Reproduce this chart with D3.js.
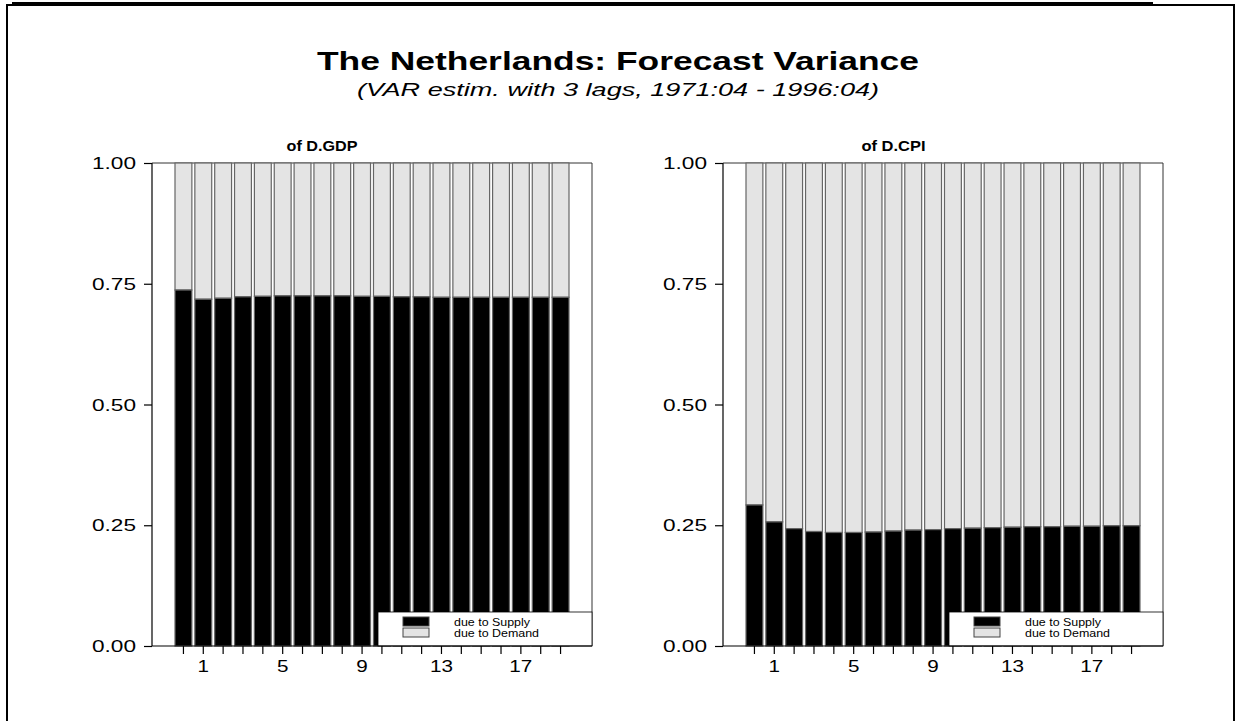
<!DOCTYPE html>
<html><head><meta charset="utf-8">
<script src="https://cdn.jsdelivr.net/npm/d3@7"></script>
<style>
html,body{margin:0;padding:0;background:#fff;}
svg{display:block;font-family:"Liberation Sans",Arial,sans-serif;}
</style></head>
<body><svg id="c" width="1238" height="721"></svg>
<script>
// ---- data ----
const horizons = d3.range(20);                 // forecast horizons (bar index)
const tickLabels = ["1","5","9","13","17"];    // labels shown under bars 1,5,9,13,17
const tickLabelIdx = [1,5,9,13,17];
const yTicks = [0, 0.25, 0.5, 0.75, 1.0];
const seriesNames = ["due to Supply","due to Demand"];
const panelTitles = ["of D.GDP","of D.CPI"];
const gdpSupply = [0.737,0.718,0.720,0.723,0.724,0.725,0.725,0.725,0.725,0.724,
                   0.724,0.723,0.723,0.722,0.722,0.722,0.722,0.722,0.722,0.722];
const cpiSupply = [0.292,0.257,0.243,0.237,0.235,0.235,0.236,0.238,0.240,0.241,
                   0.243,0.244,0.245,0.246,0.247,0.247,0.248,0.248,0.249,0.249];
const titleText = "The Netherlands: Forecast Variance";
const subtitleText = "(VAR estim. with 3 lags, 1971:04 - 1996:04)";

// ---- layout ----
const svg = d3.select("#c");
const FONT = "'Liberation Sans',Arial,sans-serif";

function txt(g, x, y, s, opt){
  const t = g.append("text").attr("x",x).attr("y",y).text(s)
    .attr("font-family",FONT).attr("font-size",opt.size).attr("fill","#000")
    .attr("text-anchor",opt.anchor||"start");
  if(opt.weight) t.attr("font-weight",opt.weight);
  if(opt.style) t.attr("font-style",opt.style);
  if(opt.len) t.attr("textLength",opt.len).attr("lengthAdjust","spacingAndGlyphs");
  return t;
}

// frame
svg.append("rect").attr("x",7).attr("y",5).attr("width",1227).attr("height",760)
  .attr("fill","none").attr("stroke","#000").attr("stroke-width",2);
svg.append("line").attr("x1",12).attr("x2",1153).attr("y1",4).attr("y2",4)
  .attr("stroke","#000").attr("stroke-width",4);

txt(svg, 618, 70, titleText, {size:26, weight:"bold", anchor:"middle", len:602});
txt(svg, 618, 96, subtitleText, {size:18, style:"italic", anchor:"middle", len:522});

const panels = [
  {left:152, right:592, data:gdpSupply, title:panelTitles[0], tx:322, tlen:71},
  {left:723, right:1163, data:cpiSupply, title:panelTitles[1], tx:893.5, tlen:64}
];
const plotTop = 163, plotBottom = 646;
const y = d3.scaleLinear().domain([0,1]).range([plotBottom, plotTop]);

panels.forEach(p => {
  const g = svg.append("g");
  const x = d3.scaleBand().domain(horizons).range([p.left+23, p.right-23]).paddingInner(0.15);

  // box top & right
  g.append("line").attr("x1",p.left).attr("x2",p.right).attr("y1",plotTop).attr("y2",plotTop)
    .attr("stroke","#333").attr("stroke-width",1);
  g.append("line").attr("x1",p.right).attr("x2",p.right).attr("y1",plotTop).attr("y2",plotBottom)
    .attr("stroke","#333").attr("stroke-width",1);

  // demand (top) segments
  g.selectAll("rect.dem").data(p.data).join("rect").attr("class","dem")
    .attr("x",(d,i)=>x(i)).attr("width",x.bandwidth())
    .attr("y",y(1)).attr("height",d=>y(d)-y(1))
    .attr("fill","#e4e4e4").attr("stroke","#666").attr("stroke-width",1.2);
  // supply (bottom) segments
  g.selectAll("rect.sup").data(p.data).join("rect").attr("class","sup")
    .attr("x",(d,i)=>x(i)).attr("width",x.bandwidth())
    .attr("y",d=>y(d)).attr("height",d=>y(0)-y(d))
    .attr("fill","#000").attr("stroke","#666").attr("stroke-width",1.2);

  // legend
  const lg = g.append("g");
  const lx = p.left + 226;
  lg.append("rect").attr("x",lx).attr("y",612).attr("width",p.right-lx).attr("height",plotBottom-612)
    .attr("fill","#fff").attr("stroke","#000").attr("stroke-width",0.8);
  lg.append("rect").attr("x",lx+25).attr("y",617).attr("width",26).attr("height",9)
    .attr("fill","#000").attr("stroke","#444").attr("stroke-width",1);
  lg.append("rect").attr("x",lx+25).attr("y",628).attr("width",26).attr("height",9)
    .attr("fill","#e4e4e4").attr("stroke","#444").attr("stroke-width",1);
  txt(lg, lx+76, 626, seriesNames[0], {size:11.5, len:76});
  txt(lg, lx+76, 637, seriesNames[1], {size:11.5, len:85});

  // y axis
  const ya = d3.axisLeft(y).tickValues(yTicks).tickSize(8).tickFormat(d3.format(".2f"));
  const yg = g.append("g").attr("transform",`translate(${p.left},0)`).call(ya);
  yg.select(".domain").attr("stroke","#000").attr("stroke-width",1.2).attr("d",`M0,${plotTop}V${plotBottom}`);
  yg.selectAll(".tick line").attr("stroke","#000").attr("stroke-width",1.2);
  yg.selectAll(".tick text").remove();
  yTicks.forEach(v => txt(g, p.left-16, y(v)+6, d3.format(".2f")(v), {size:17, anchor:"end", len:44}));

  // x axis
  const xa = d3.axisBottom(x).tickSize(8).tickFormat("");
  const xg = g.append("g").attr("transform",`translate(0,${plotBottom})`).call(xa);
  xg.select(".domain").attr("stroke","#000").attr("stroke-width",1.2).attr("d",`M${p.left},0H${p.right}`);
  xg.selectAll(".tick line").attr("stroke","#000").attr("stroke-width",1.2);
  tickLabelIdx.forEach((idx,k) => {
    const s = tickLabels[k];
    txt(g, x(idx)+x.bandwidth()/2, 672, s, {size:17, anchor:"middle", len: s.length*11.5});
  });

  // panel title
  txt(g, p.tx, 151, p.title, {size:15, weight:"bold", anchor:"middle", len:p.tlen});
});
</script></body></html>
